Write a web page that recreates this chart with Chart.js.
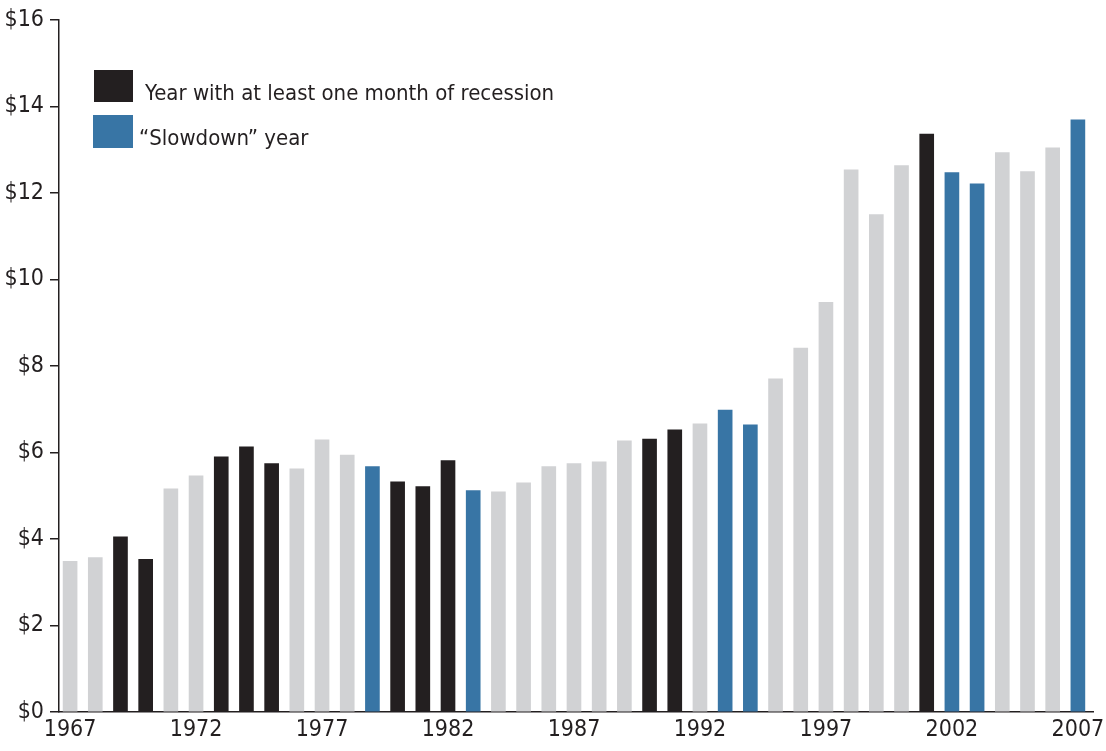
<!DOCTYPE html>
<html>
<head>
<meta charset="utf-8">
<script src="https://cdn.jsdelivr.net/npm/chart.js@4/dist/chart.umd.min.js"></script>
<style>
  body { margin: 0; background: #fff; }
  #wrap { position: relative; width: 1106px; height: 751px; }
  .sw { position: absolute; }
  .lbl { position: absolute; display: flex; align-items: center; color: #231f20;
         font-family: 'Liberation Sans Narrow', 'DejaVu Sans Condensed', 'Roboto', sans-serif; font-size: 22px; white-space: nowrap; }
</style>
</head>
<body>
<div id="wrap">
  <canvas id="myChart" width="1106" height="751"></canvas>
  <div class="sw" id="sw-rec" style="left:94px;top:70px;width:39px;height:32px;"></div>
  <div class="lbl" style="left:145px;top:74px;height:36px;">Year with at least one month of recession</div>
  <div class="sw" id="sw-slow" style="left:93px;top:115px;width:40px;height:33px;"></div>
  <div class="lbl" style="left:139px;top:119px;height:36px;">“Slowdown” year</div>
</div>
<script>
	var years = [1967, 1968, 1969, 1970, 1971, 1972, 1973, 1974, 1975, 1976,
		1977, 1978, 1979, 1980, 1981, 1982, 1983, 1984, 1985, 1986,
		1987, 1988, 1989, 1990, 1991, 1992, 1993, 1994, 1995, 1996,
		1997, 1998, 1999, 2000, 2001, 2002, 2003, 2004, 2005, 2006, 2007];
	var values = [3.48, 3.57, 4.05, 3.53, 5.16, 5.46, 5.90, 6.13, 5.74, 5.62,
		6.29, 5.94, 5.67, 5.32, 5.21, 5.81, 5.12, 5.09, 5.30, 5.67,
		5.74, 5.78, 6.27, 6.31, 6.52, 6.66, 6.98, 6.64, 7.70, 8.41,
		9.47, 12.53, 11.50, 12.63, 13.36, 12.47, 12.21, 12.93, 12.49, 13.04, 13.69];
	var recessionYears = [1969, 1970, 1973, 1974, 1975, 1980, 1981, 1982, 1990, 1991, 2001];
	var slowdownYears = [1979, 1983, 1993, 1994, 2002, 2003, 2007];
	var xTickLabels = [1967, 1972, 1977, 1982, 1987, 1992, 1997, 2002, 2007];
	var yTickValues = [0, 2, 4, 6, 8, 10, 12, 14, 16];

	var GREY = '#d1d2d4', BLACK = '#231f20', BLUE = '#3875a5';
	var FONT = "'Liberation Sans Narrow', 'DejaVu Sans Condensed', 'Roboto', sans-serif";

	document.getElementById('sw-rec').style.background = BLACK;
	document.getElementById('sw-slow').style.background = BLUE;

	// colour per bar from the year lists
	var colors = years.map(function(y) {
		if (recessionYears.indexOf(y) >= 0) return BLACK;
		if (slowdownYears.indexOf(y) >= 0) return BLUE;
		return GREY;
	});

	var ctx = document.getElementById('myChart').getContext('2d');
	var myChart = new Chart(ctx, {
		type: 'bar',
		data: {
			datasets: [{
				data: years.map(function(y, i) { return { x: y, y: values[i] }; }),
				backgroundColor: colors,
				barThickness: 14
			}]
		},
		options: {
			responsive: false,
			animation: false,
			layout: { padding: { top: 17, right: 13, left: 0, bottom: 0 } },
			plugins: { legend: { display: false }, tooltip: { enabled: false } },
			scales: {
				x: {
					type: 'linear',
					offset: false,
					min: 1966.56,
					max: 2007.6,
					afterBuildTicks: function(scale) {
						scale.ticks = xTickLabels.map(function(v) { return { value: v }; });
					},
					afterFit: function(scale) {
						scale.height = 39;
						// let the end labels hang past the axis like the original
						scale.paddingLeft = 0;
						scale.paddingRight = 0;
					},
					grid: { display: false, drawTicks: false },
					border: { display: true, color: BLACK, width: 1.5 },
					ticks: {
						color: BLACK,
						padding: 4,
						maxRotation: 0,
						autoSkip: false,
						font: { family: FONT, size: 23 },
						callback: function(v) { return String(v); }
					}
				},
				y: {
					min: 0,
					max: 16,
					afterBuildTicks: function(scale) {
						scale.ticks = yTickValues.map(function(v) { return { value: v }; });
					},
					afterFit: function(scale) { scale.width = 59; },
					grid: { drawOnChartArea: false, drawTicks: true, tickLength: 9, color: BLACK, lineWidth: 1.5 },
					border: { display: true, color: BLACK, width: 1.5 },
					ticks: {
						color: BLACK,
						padding: 6,
						font: { family: FONT, size: 23 },
						callback: function(v) { return '$' + v; }
					}
				}
			}
		}
	});
</script>
</body>
</html>
